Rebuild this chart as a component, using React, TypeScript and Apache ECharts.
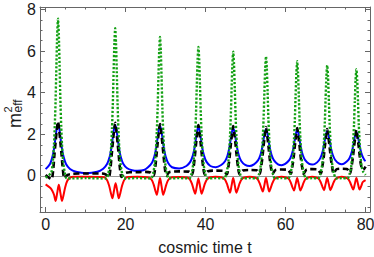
import React, { useEffect, useRef } from "react";
import * as echarts from "echarts";

const X_MIN = -1.4;
const X_MAX = 81.1;
const Y_MIN = -1.73;
const Y_MAX = 8.12;

const xTicks = [0, 20, 40, 60, 80];
const xMinorTicks = [5, 10, 15, 25, 30, 35, 45, 50, 55, 65, 70, 75];
const yTicks = [0, 2, 4, 6, 8];
const yMinorTicks = [-1.5, -1, -0.5, 0.5, 1, 1.5, 2.5, 3, 3.5, 4.5, 5, 5.5, 6.5, 7, 7.5];

const xTitle = "cosmic time t";

const blueCurve: [number, number][] = [
  [0, 0.33], [1.1, 0.58], [1.7, 0.92], [2.1, 1.3], [2.5, 1.88], [2.8, 2.31], [3.1, 2.5], [3.4, 2.31], [3.7, 1.88], [4.1, 1.3], [4.5, 0.92], [5.1, 0.58], [6.1, 0.34], [7.6, 0.2], [10.2, 0.13], [12.9, 0.2],
  [14.4, 0.35], [15.4, 0.59], [16.0, 0.91], [16.4, 1.29], [16.8, 1.84], [17.1, 2.26], [17.4, 2.45], [17.7, 2.26], [18.0, 1.84], [18.4, 1.29], [18.8, 0.91], [19.4, 0.59], [20.4, 0.37], [21.6, 0.28], [23.0, 0.25], [24.6, 0.29],
  [25.6, 0.42], [26.6, 0.64], [27.2, 0.95], [27.6, 1.3], [28.0, 1.83], [28.3, 2.22], [28.6, 2.4], [28.9, 2.22], [29.2, 1.83], [29.6, 1.3], [30.0, 0.95], [30.6, 0.64], [31.6, 0.42], [33.4, 0.36],
  [35.2, 0.48], [36.2, 0.69], [36.8, 0.98], [37.2, 1.31], [37.6, 1.81], [37.9, 2.18], [38.2, 2.35], [38.5, 2.18], [38.8, 1.81], [39.2, 1.31], [39.6, 0.98], [40.2, 0.69], [41.2, 0.48], [42.55, 0.42],
  [43.9, 0.53], [44.9, 0.72], [45.5, 1.0], [45.9, 1.32], [46.3, 1.79], [46.6, 2.14], [46.9, 2.3], [47.2, 2.14], [47.5, 1.79], [47.9, 1.32], [48.3, 1.0], [48.9, 0.72], [49.9, 0.53], [51.0, 0.48],
  [52.1, 0.56], [53.1, 0.75], [53.7, 1.01], [54.1, 1.31], [54.5, 1.76], [54.8, 2.1], [55.1, 2.25], [55.4, 2.1], [55.7, 1.76], [56.1, 1.31], [56.5, 1.01], [57.1, 0.75], [58.1, 0.56], [59.0, 0.52],
  [59.9, 0.58], [60.9, 0.76], [61.5, 1.01], [61.9, 1.3], [62.3, 1.73], [62.6, 2.06], [62.9, 2.2], [63.2, 2.06], [63.5, 1.73], [63.9, 1.3], [64.3, 1.01], [64.9, 0.76], [65.9, 0.58], [66.65, 0.55],
  [67.4, 0.59], [68.4, 0.77], [69.0, 1.01], [69.4, 1.29], [69.8, 1.7], [70.1, 2.01], [70.4, 2.15], [70.7, 2.01], [71.0, 1.7], [71.4, 1.29], [71.8, 1.01], [72.4, 0.77], [73.4, 0.59], [74.05, 0.57],
  [74.7, 0.61], [75.7, 0.77], [76.3, 1.0], [76.7, 1.27], [77.1, 1.67], [77.4, 1.97], [77.7, 2.1], [78.0, 1.97], [78.3, 1.67], [78.7, 1.27], [79.1, 1.0], [79.7, 0.77], [80.0, 0.72],
];

const blackCurve: [number, number][] = [
  [0, 0.05], [1.0, -0.1], [1.5, -0.15], [1.9, 0.3], [2.2, 1.0], [2.5, 1.62], [2.8, 2.2], [3.1, 2.62], [3.4, 2.2], [3.7, 1.62], [4.0, 1.0], [4.3, 0.35], [4.7, -0.1], [5.5, 0.05], [6.5, 0.1], [10.2, 0.12],
  [14.0, 0.12], [15.0, 0.08], [15.8, -0.05], [16.2, 0.35], [16.5, 0.97], [16.8, 1.58], [17.1, 2.15], [17.4, 2.55], [17.7, 2.15], [18.0, 1.58], [18.3, 0.97], [18.6, 0.35], [19.0, -0.05], [19.8, 0.13], [21.0, 0.18], [23.0, 0.18],
  [25.0, 0.2], [26.2, 0.17], [27.0, 0.02], [27.4, 0.4], [27.7, 0.95], [28.0, 1.55], [28.3, 2.1], [28.6, 2.5], [28.9, 2.1], [29.2, 1.55], [29.5, 0.95], [29.8, 0.4], [30.2, 0.02], [31.0, 0.19], [33.4, 0.22],
  [35.8, 0.21], [36.6, 0.06], [37.0, 0.42], [37.3, 0.93], [37.6, 1.52], [37.9, 2.05], [38.2, 2.45], [38.5, 2.05], [38.8, 1.52], [39.1, 0.93], [39.4, 0.42], [39.8, 0.06], [40.6, 0.23], [42.55, 0.26],
  [44.5, 0.25], [45.3, 0.08], [45.7, 0.44], [46.0, 0.91], [46.3, 1.49], [46.6, 2.0], [46.9, 2.4], [47.2, 2.0], [47.5, 1.49], [47.8, 0.91], [48.1, 0.44], [48.5, 0.08], [49.3, 0.26], [51.0, 0.29],
  [52.7, 0.28], [53.5, 0.1], [53.9, 0.46], [54.2, 0.89], [54.5, 1.46], [54.8, 1.95], [55.1, 2.35], [55.4, 1.95], [55.7, 1.46], [56.0, 0.89], [56.3, 0.46], [56.7, 0.1], [57.5, 0.29], [59.0, 0.31],
  [60.5, 0.3], [61.3, 0.11], [61.7, 0.47], [62.0, 0.87], [62.3, 1.43], [62.6, 1.9], [62.9, 2.3], [63.2, 1.9], [63.5, 1.43], [63.8, 0.87], [64.1, 0.47], [64.5, 0.11], [65.3, 0.31], [66.65, 0.33],
  [68.0, 0.32], [68.8, 0.12], [69.2, 0.48], [69.5, 0.86], [69.8, 1.4], [70.1, 1.85], [70.4, 2.25], [70.7, 1.85], [71.0, 1.4], [71.3, 0.86], [71.6, 0.48], [72.0, 0.12], [72.8, 0.33], [74.05, 0.35],
  [75.3, 0.34], [76.1, 0.12], [76.5, 0.48], [76.8, 0.85], [77.1, 1.38], [77.4, 1.83], [77.7, 2.22], [78.0, 1.83], [78.3, 1.38], [78.6, 0.85], [78.9, 0.48], [79.4, 0.3], [80.0, 0.45],
];

const greenCurve: [number, number][] = [
  [0, -0.08], [1.4, 0.15], [1.8, 0.68], [2.1, 1.51], [2.3, 2.42], [2.5, 3.63], [2.7, 5.29], [2.9, 6.8], [3.1, 7.56], [3.3, 6.8], [3.5, 5.29], [3.7, 3.63], [3.9, 2.42], [4.1, 1.51], [4.4, 0.68], [4.8, 0.15], [5.3, -0.12], [10.2, -0.1],
  [15.2, -0.12], [15.7, 0.14], [16.1, 0.64], [16.4, 1.42], [16.6, 2.27], [16.8, 3.41], [17.0, 4.97], [17.2, 6.39], [17.4, 7.1], [17.6, 6.39], [17.8, 4.97], [18.0, 3.41], [18.2, 2.27], [18.4, 1.42], [18.7, 0.64], [19.1, 0.14], [19.6, -0.12], [23.0, -0.1],
  [26.4, -0.12], [26.9, 0.13], [27.3, 0.6], [27.6, 1.34], [27.8, 2.14], [28.0, 3.21], [28.2, 4.68], [28.4, 6.01], [28.6, 6.68], [28.8, 6.01], [29.0, 4.68], [29.2, 3.21], [29.4, 2.14], [29.6, 1.34], [29.9, 0.6], [30.3, 0.13], [30.8, -0.12], [33.4, -0.1],
  [36.0, -0.12], [36.5, 0.12], [36.9, 0.56], [37.2, 1.24], [37.4, 1.98], [37.6, 2.98], [37.8, 4.34], [38.0, 5.58], [38.2, 6.2], [38.4, 5.58], [38.6, 4.34], [38.8, 2.98], [39.0, 1.98], [39.2, 1.24], [39.5, 0.56], [39.9, 0.12], [40.4, -0.12], [42.55, -0.1],
  [44.7, -0.12], [45.2, 0.12], [45.6, 0.54], [45.9, 1.19], [46.1, 1.91], [46.3, 2.87], [46.5, 4.18], [46.7, 5.37], [46.9, 5.97], [47.1, 5.37], [47.3, 4.18], [47.5, 2.87], [47.7, 1.91], [47.9, 1.19], [48.2, 0.54], [48.6, 0.12], [49.1, -0.12], [51.0, -0.1],
  [52.9, -0.12], [53.4, 0.12], [53.8, 0.52], [54.1, 1.15], [54.3, 1.84], [54.5, 2.76], [54.7, 4.03], [54.9, 5.18], [55.1, 5.75], [55.3, 5.18], [55.5, 4.03], [55.7, 2.76], [55.9, 1.84], [56.1, 1.15], [56.4, 0.52], [56.8, 0.12], [57.3, -0.12], [59.0, -0.1],
  [60.7, -0.12], [61.2, 0.11], [61.6, 0.5], [61.9, 1.1], [62.1, 1.76], [62.3, 2.64], [62.5, 3.86], [62.7, 4.96], [62.9, 5.51], [63.1, 4.96], [63.3, 3.86], [63.5, 2.64], [63.7, 1.76], [63.9, 1.1], [64.2, 0.5], [64.6, 0.11], [65.1, -0.12], [66.65, -0.1],
  [68.2, -0.12], [68.7, 0.11], [69.1, 0.48], [69.4, 1.06], [69.6, 1.7], [69.8, 2.55], [70.0, 3.72], [70.2, 4.79], [70.4, 5.32], [70.6, 4.79], [70.8, 3.72], [71.0, 2.55], [71.2, 1.7], [71.4, 1.06], [71.7, 0.48], [72.1, 0.11], [72.6, -0.12], [74.05, -0.1],
  [75.5, -0.12], [76.0, 0.1], [76.4, 0.46], [76.7, 1.03], [76.9, 1.64], [77.1, 2.46], [77.3, 3.59], [77.5, 4.62], [77.7, 5.13], [77.9, 4.62], [78.1, 3.59], [78.3, 2.46], [78.5, 1.64], [78.7, 1.03], [79.0, 0.46], [79.4, 0.2], [80.0, 0.05],
];

const redCurve: [number, number][] = [
  [0, -0.4], [1.2, -0.58], [1.7, -0.72], [2.1, -0.9], [2.5, -1.2], [2.9, -0.81], [3.3, -0.42], [3.7, -0.81], [4.1, -1.2], [4.5, -0.9], [4.9, -0.54], [5.4, -0.24], [6.1, -0.08], [7.0, -0.04], [10.2, -0.04],
  [14.7, -0.06], [15.4, -0.21], [15.9, -0.48], [16.3, -0.8], [16.7, -1.07], [17.1, -0.71], [17.5, -0.35], [17.9, -0.71], [18.3, -1.07], [18.7, -0.8], [19.1, -0.48], [19.6, -0.21], [20.3, -0.06], [23.0, -0.04],
  [25.8, -0.07], [26.5, -0.18], [27.0, -0.4], [27.4, -0.68], [27.8, -0.9], [28.2, -0.5], [28.6, -0.1], [29.0, -0.5], [29.4, -0.9], [29.8, -0.68], [30.2, -0.4], [30.7, -0.18], [31.4, -0.07], [33.4, -0.05],
  [35.4, -0.07], [36.1, -0.17], [36.6, -0.38], [37.0, -0.64], [37.4, -0.85], [37.8, -0.49], [38.2, -0.12], [38.6, -0.49], [39.0, -0.85], [39.4, -0.64], [39.8, -0.38], [40.3, -0.17], [41.0, -0.07], [42.55, -0.04],
  [44.1, -0.07], [44.8, -0.16], [45.3, -0.36], [45.7, -0.6], [46.1, -0.8], [46.5, -0.45], [46.9, -0.1], [47.3, -0.45], [47.7, -0.8], [48.1, -0.6], [48.5, -0.36], [49.0, -0.16], [49.7, -0.07], [51.0, -0.04],
  [52.3, -0.07], [53.0, -0.15], [53.5, -0.34], [53.9, -0.56], [54.3, -0.75], [54.7, -0.43], [55.1, -0.1], [55.5, -0.43], [55.9, -0.75], [56.3, -0.56], [56.7, -0.34], [57.2, -0.15], [57.9, -0.07], [59.0, -0.04],
  [60.1, -0.07], [60.8, -0.14], [61.3, -0.32], [61.7, -0.53], [62.1, -0.7], [62.5, -0.4], [62.9, -0.1], [63.3, -0.4], [63.7, -0.7], [64.1, -0.53], [64.5, -0.32], [65.0, -0.14], [65.7, -0.07], [66.65, -0.04],
  [67.6, -0.07], [68.3, -0.14], [68.8, -0.31], [69.2, -0.51], [69.6, -0.68], [70.0, -0.39], [70.4, -0.1], [70.8, -0.39], [71.2, -0.68], [71.6, -0.51], [72.0, -0.31], [72.5, -0.14], [73.2, -0.07], [74.05, -0.04],
  [74.9, -0.07], [75.6, -0.13], [76.1, -0.29], [76.5, -0.49], [76.9, -0.65], [77.3, -0.38], [77.7, -0.1], [78.1, -0.38], [78.5, -0.65], [78.9, -0.49], [79.3, -0.29], [80.0, -0.2],
];

const FONT = '"Liberation Sans", Arial, Helvetica, sans-serif';
const FRAME = "#666666";
const LABEL = "#1a1a1a";

function xAxisDef(position: "top" | "bottom", ticks: number[], len: number, showLine: boolean, showLabels: boolean, extra: any = {}) {
  return {
    type: "value",
    position,
    min: X_MIN,
    max: X_MAX,
    axisLine: { show: showLine, onZero: false, lineStyle: { color: FRAME, width: 1 } },
    axisTick: { show: true, inside: true, length: len, customValues: ticks, lineStyle: { color: FRAME, width: 1 } },
    axisLabel: { show: showLabels, customValues: ticks, margin: 4, fontSize: 16, fontFamily: FONT, color: LABEL },
    splitLine: { show: false },
    minorTick: { show: false },
    ...extra,
  };
}

function yAxisDef(position: "left" | "right", ticks: number[], len: number, showLine: boolean, showLabels: boolean) {
  return {
    type: "value",
    position,
    min: Y_MIN,
    max: Y_MAX,
    axisLine: { show: showLine, onZero: false, lineStyle: { color: FRAME, width: 1 } },
    axisTick: { show: true, inside: true, length: len, customValues: ticks, lineStyle: { color: FRAME, width: 1 } },
    axisLabel: { show: showLabels, customValues: ticks, margin: 4, fontSize: 16, fontFamily: FONT, color: LABEL },
    splitLine: { show: false },
    minorTick: { show: false },
  };
}

export default function App() {
  const ref = useRef<HTMLDivElement>(null);
  useEffect(() => {
    if (!ref.current) return;
    const chart = echarts.init(ref.current, null, { renderer: "svg" });
    const txt = (text: string, x: number, y: number, size: number) => ({
      type: "text",
      x,
      y,
      style: {
        text,
        fontSize: size,
        fontFamily: FONT,
        fill: LABEL,
        textAlign: "left",
        textVerticalAlign: "middle",
        align: "left",
        verticalAlign: "middle",
      },
    });
    chart.setOption({
      animation: false,
      backgroundColor: "#ffffff",
      grid: { left: 40, right: 4, top: 7, bottom: 45, containLabel: false, outerBoundsMode: "none" },
      xAxis: [
        xAxisDef("bottom", xTicks, 5, true, true, {
          name: xTitle,
          nameLocation: "middle",
          nameGap: 27,
          nameTextStyle: { fontSize: 16, fontFamily: FONT, color: LABEL },
        }),
        xAxisDef("top", xTicks, 5, true, false),
        xAxisDef("bottom", xMinorTicks, 2.5, false, false),
        xAxisDef("top", xMinorTicks, 2.5, false, false),
      ],
      yAxis: [
        yAxisDef("left", yTicks, 5, true, true),
        yAxisDef("right", yTicks, 5, true, false),
        yAxisDef("left", yMinorTicks, 2.5, false, false),
        yAxisDef("right", yMinorTicks, 2.5, false, false),
      ],
      graphic: [
        {
          type: "group",
          x: 21,
          y: 128,
          rotation: Math.PI / 2,
          children: [txt("m", 0, -6.3, 18), txt("2", 15.5, -12.9, 11), txt("eff", 15.5, -3.2, 12)],
        },
      ],
      series: [
        {
          type: "line",
          name: "blue",
          data: blueCurve,
          xAxisIndex: 0,
          yAxisIndex: 0,
          showSymbol: false,
          symbol: "none",
          smooth: 0.3,
          lineStyle: { color: "#0000ff", width: 2 },
          markLine: {
            silent: true,
            symbol: ["none", "none"],
            label: { show: false },
            lineStyle: { color: "#9a9a9a", width: 1, type: "solid" },
            data: [{ yAxis: 0 }],
            z: 1,
          },
          z: 2,
        },
        {
          type: "line",
          name: "red",
          data: redCurve,
          xAxisIndex: 0,
          yAxisIndex: 0,
          showSymbol: false,
          symbol: "none",
          smooth: 0.3,
          lineStyle: { color: "#ff0000", width: 2 },
          z: 3,
        },
        {
          type: "line",
          name: "black",
          data: blackCurve,
          xAxisIndex: 0,
          yAxisIndex: 0,
          showSymbol: false,
          symbol: "none",
          smooth: 0.3,
          lineStyle: { color: "#000000", width: 2.6, type: [6, 3.5] },
          z: 4,
        },
        {
          type: "line",
          name: "green",
          data: greenCurve,
          xAxisIndex: 0,
          yAxisIndex: 0,
          showSymbol: false,
          symbol: "none",
          smooth: 0.2,
          lineStyle: { color: "#12a012", width: 2.4, type: [2.2, 1.8] },
          z: 5,
        },
      ],
    });
    return () => chart.dispose();
  }, []);
  return <div ref={ref} style={{ position: "absolute", left: 0, top: 0, width: 374, height: 257 }} />;
}
